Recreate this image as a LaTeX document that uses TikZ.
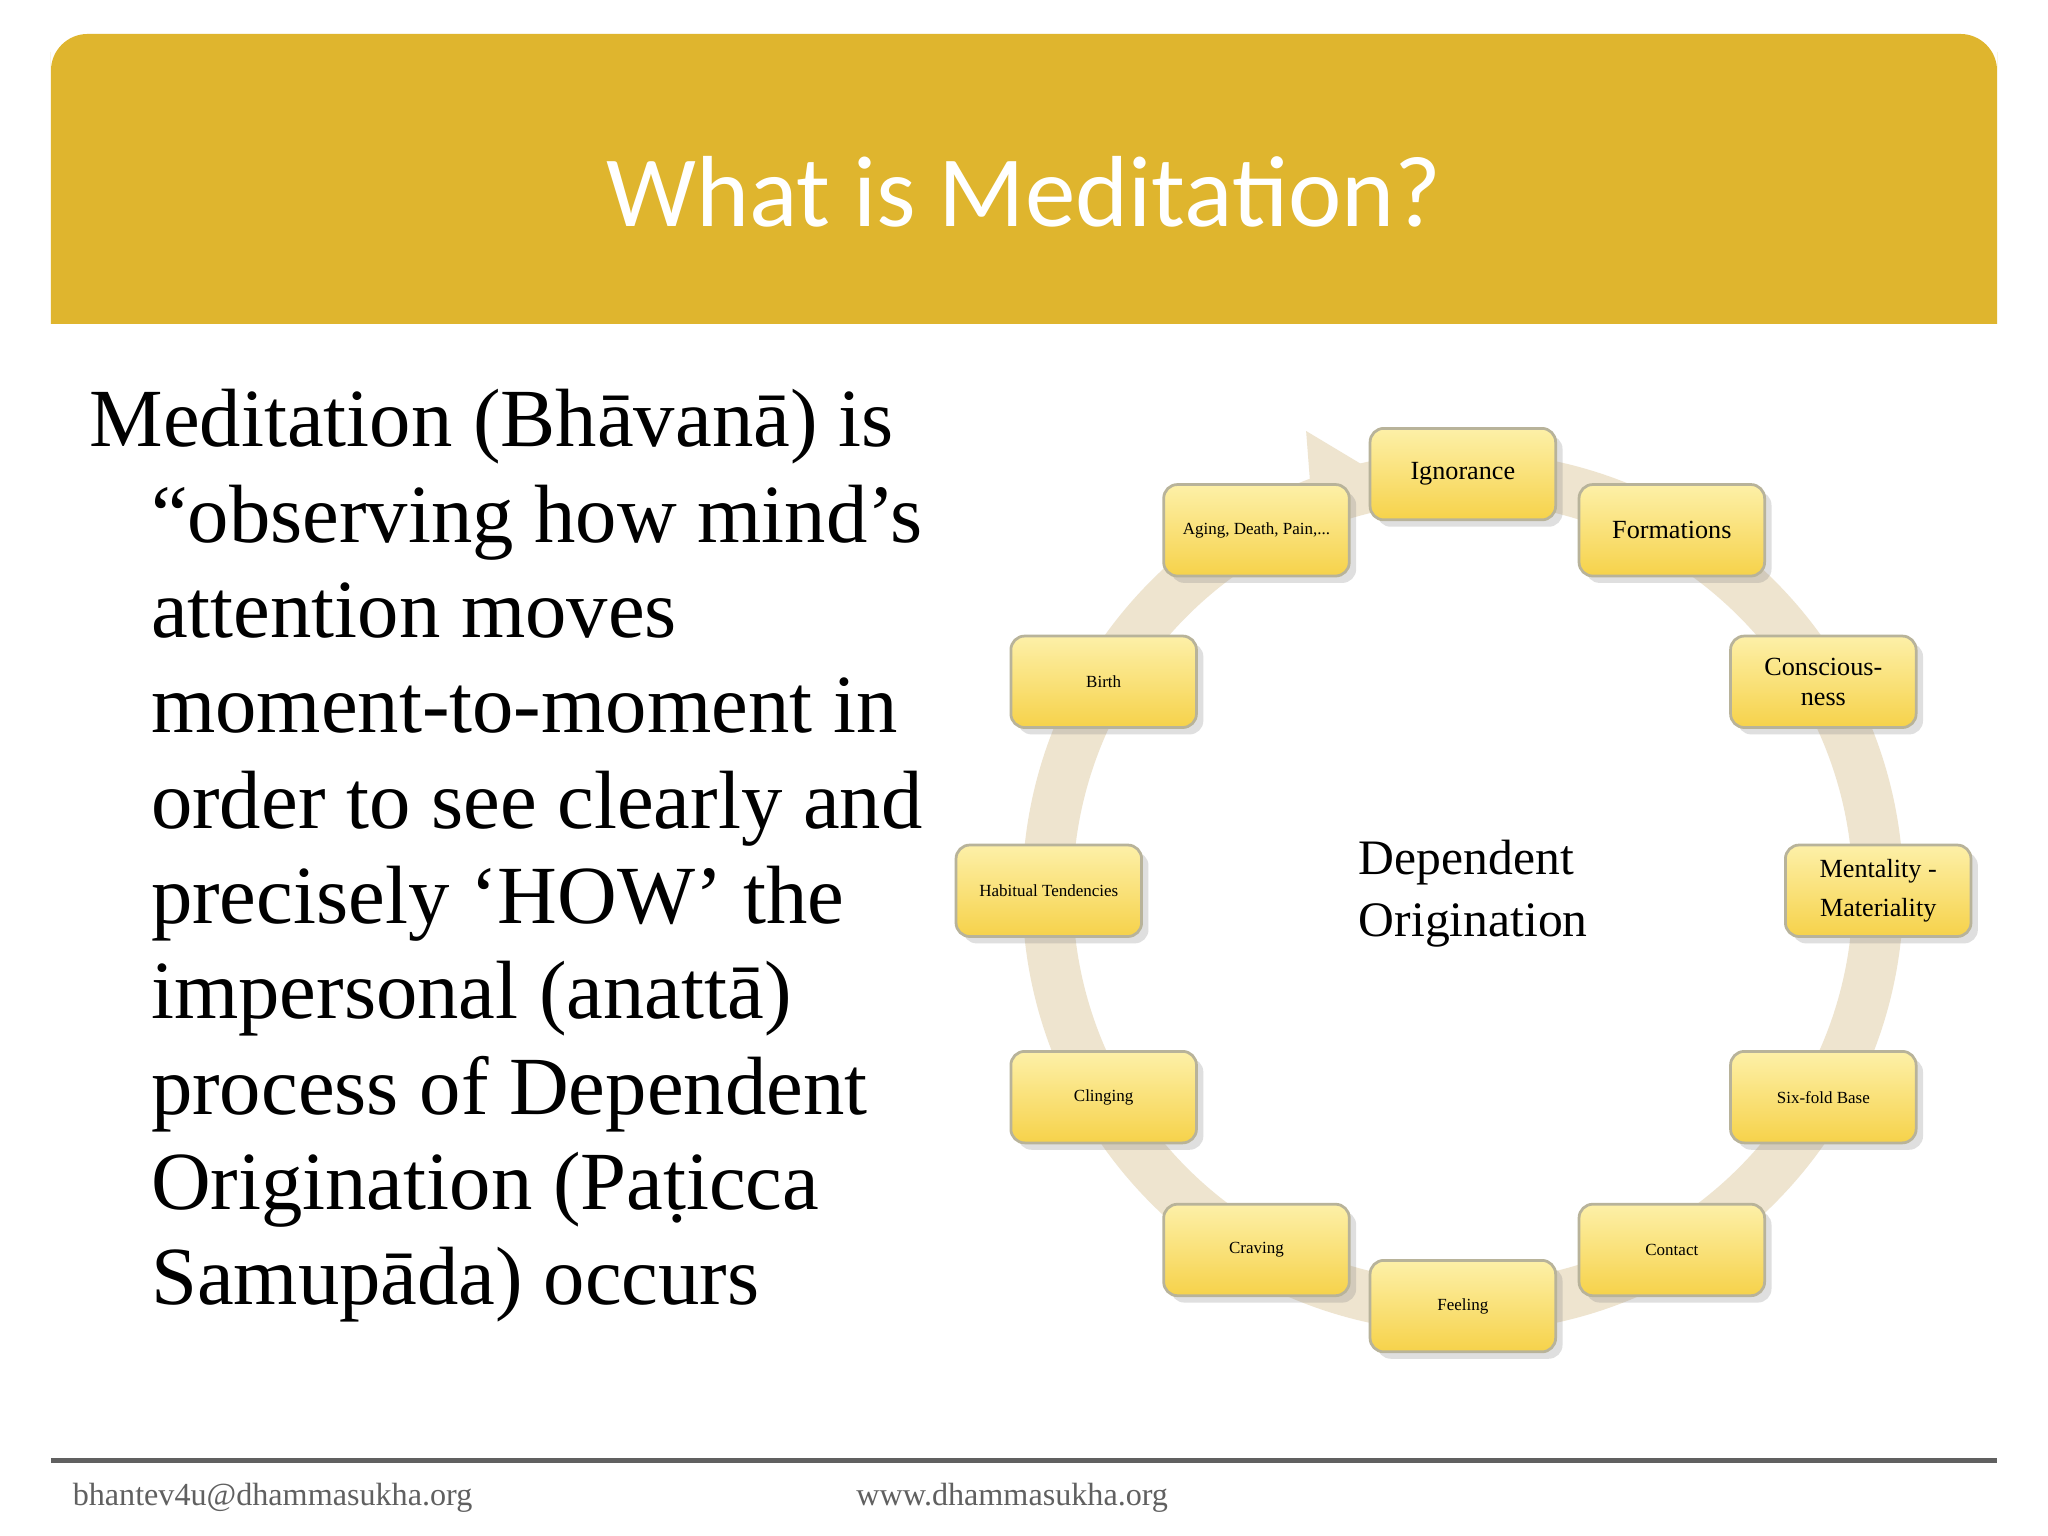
\documentclass[tikz,border=0pt]{standalone}
\usepackage{fontspec}
\setmainfont{Liberation Serif}
\newfontfamily\titlefont{Carlito}
\usetikzlibrary{shadows}
\definecolor{gold}{HTML}{DFB52E}
\definecolor{ring}{HTML}{EEE4CF}
\definecolor{boxtop}{HTML}{FDF0A8}
\definecolor{boxbot}{HTML}{F6D24A}
\definecolor{boxedge}{HTML}{B8B39A}
\definecolor{foot}{HTML}{606060}
\tikzset{
 dobox/.style={draw=boxedge, line width=0.6pt, rounded corners=3pt, top color=boxtop, bottom color=boxbot,
   minimum width=1.42cm, minimum height=0.70cm, align=center, inner sep=1pt,
   drop shadow={opacity=0.25, shadow xshift=1.5pt, shadow yshift=-1.5pt}},
 big/.style={font=\fontsize{5.7}{6.6}\selectfont},
 small/.style={font=\fontsize{3.7}{4.4}\selectfont},
 body/.style={anchor=base west, inner sep=0, font=\fontsize{18}{21}\selectfont}
}
\begin{document}
\begin{tikzpicture}[x=0.01cm,y=-0.01cm]
\useasboundingbox (0,0) rectangle (1568,1176);
\fill[white] (0,0) rectangle (1568,1176);
\fill[gold] (39,248) -- (39,40) [rounded corners=8pt] -- (39,26) -- (1529,26) [sharp corners] -- (1529,40) -- (1529,248) -- cycle;
\node[text=white, font=\titlefont\fontsize{22}{26}\selectfont] (title) at (784,147) {What is Meditation?};
\node[body] (l1) at (68,342) {Meditation (Bhāvanā) is};
\node[body] (l2) at (115,415) {“observing how mind’s};
\node[body] (l3) at (115,488) {attention moves};
\node[body] (l4) at (115,561) {moment-to-moment in};
\node[body] (l5) at (115,634) {order to see clearly and};
\node[body] (l6) at (115,707) {precisely ‘HOW’ the};
\node[body] (l7) at (115,780) {impersonal (anattā)};
\node[body] (l8) at (115,853) {process of Dependent};
\node[body] (l9) at (115,926) {Origination (Paṭicca};
\node[body] (l10) at (115,999) {Samupāda) occurs};
% ring
\coordinate (c) at (1120,683);
\draw[ring, line width=11pt] (c) circle[radius=318];
\fill[ring] (1000,330) -- (1050,360) -- (1005,395) -- cycle;
\node[align=left, font=\fontsize{10.8}{13.5}\selectfont] (center) at (1128,684) {Dependent\\Origination};
\node[dobox,big] (ign) at (1120,363) {Ignorance};
\node[dobox,big] (form) at (1280,406) {Formations};
\node[dobox,big] (cons) at (1396,522) {Conscious-\\ness};
\node[dobox,big] (ment) at (1438,682) {Mentality -\\[2pt]Materiality};
\node[dobox,small] (six) at (1396,840) {Six-fold Base};
\node[dobox,small] (cont) at (1280,957) {Contact};
\node[dobox,small] (feel) at (1120,1000) {Feeling};
\node[dobox,small] (crav) at (962,957) {Craving};
\node[dobox,small] (cling) at (845,840) {Clinging};
\node[dobox,small] (hab) at (803,682) {Habitual Tendencies};
\node[dobox,small] (birth) at (845,522) {Birth};
\node[dobox,small] (aging) at (962,406) {Aging, Death, Pain,...};
% footer
\draw[foot, line width=1pt] (39,1118) coordinate (fa) -- (1529,1118) coordinate (fb);
\node[anchor=west, text=foot, font=\fontsize{7}{8}\selectfont, inner sep=0] (mail) at (55,1147) {bhantev4u@dhammasukha.org};
\node[anchor=west, text=foot, font=\fontsize{7}{8}\selectfont, inner sep=0] (web) at (655,1147) {www.dhammasukha.org};
\end{tikzpicture}
\end{document}
